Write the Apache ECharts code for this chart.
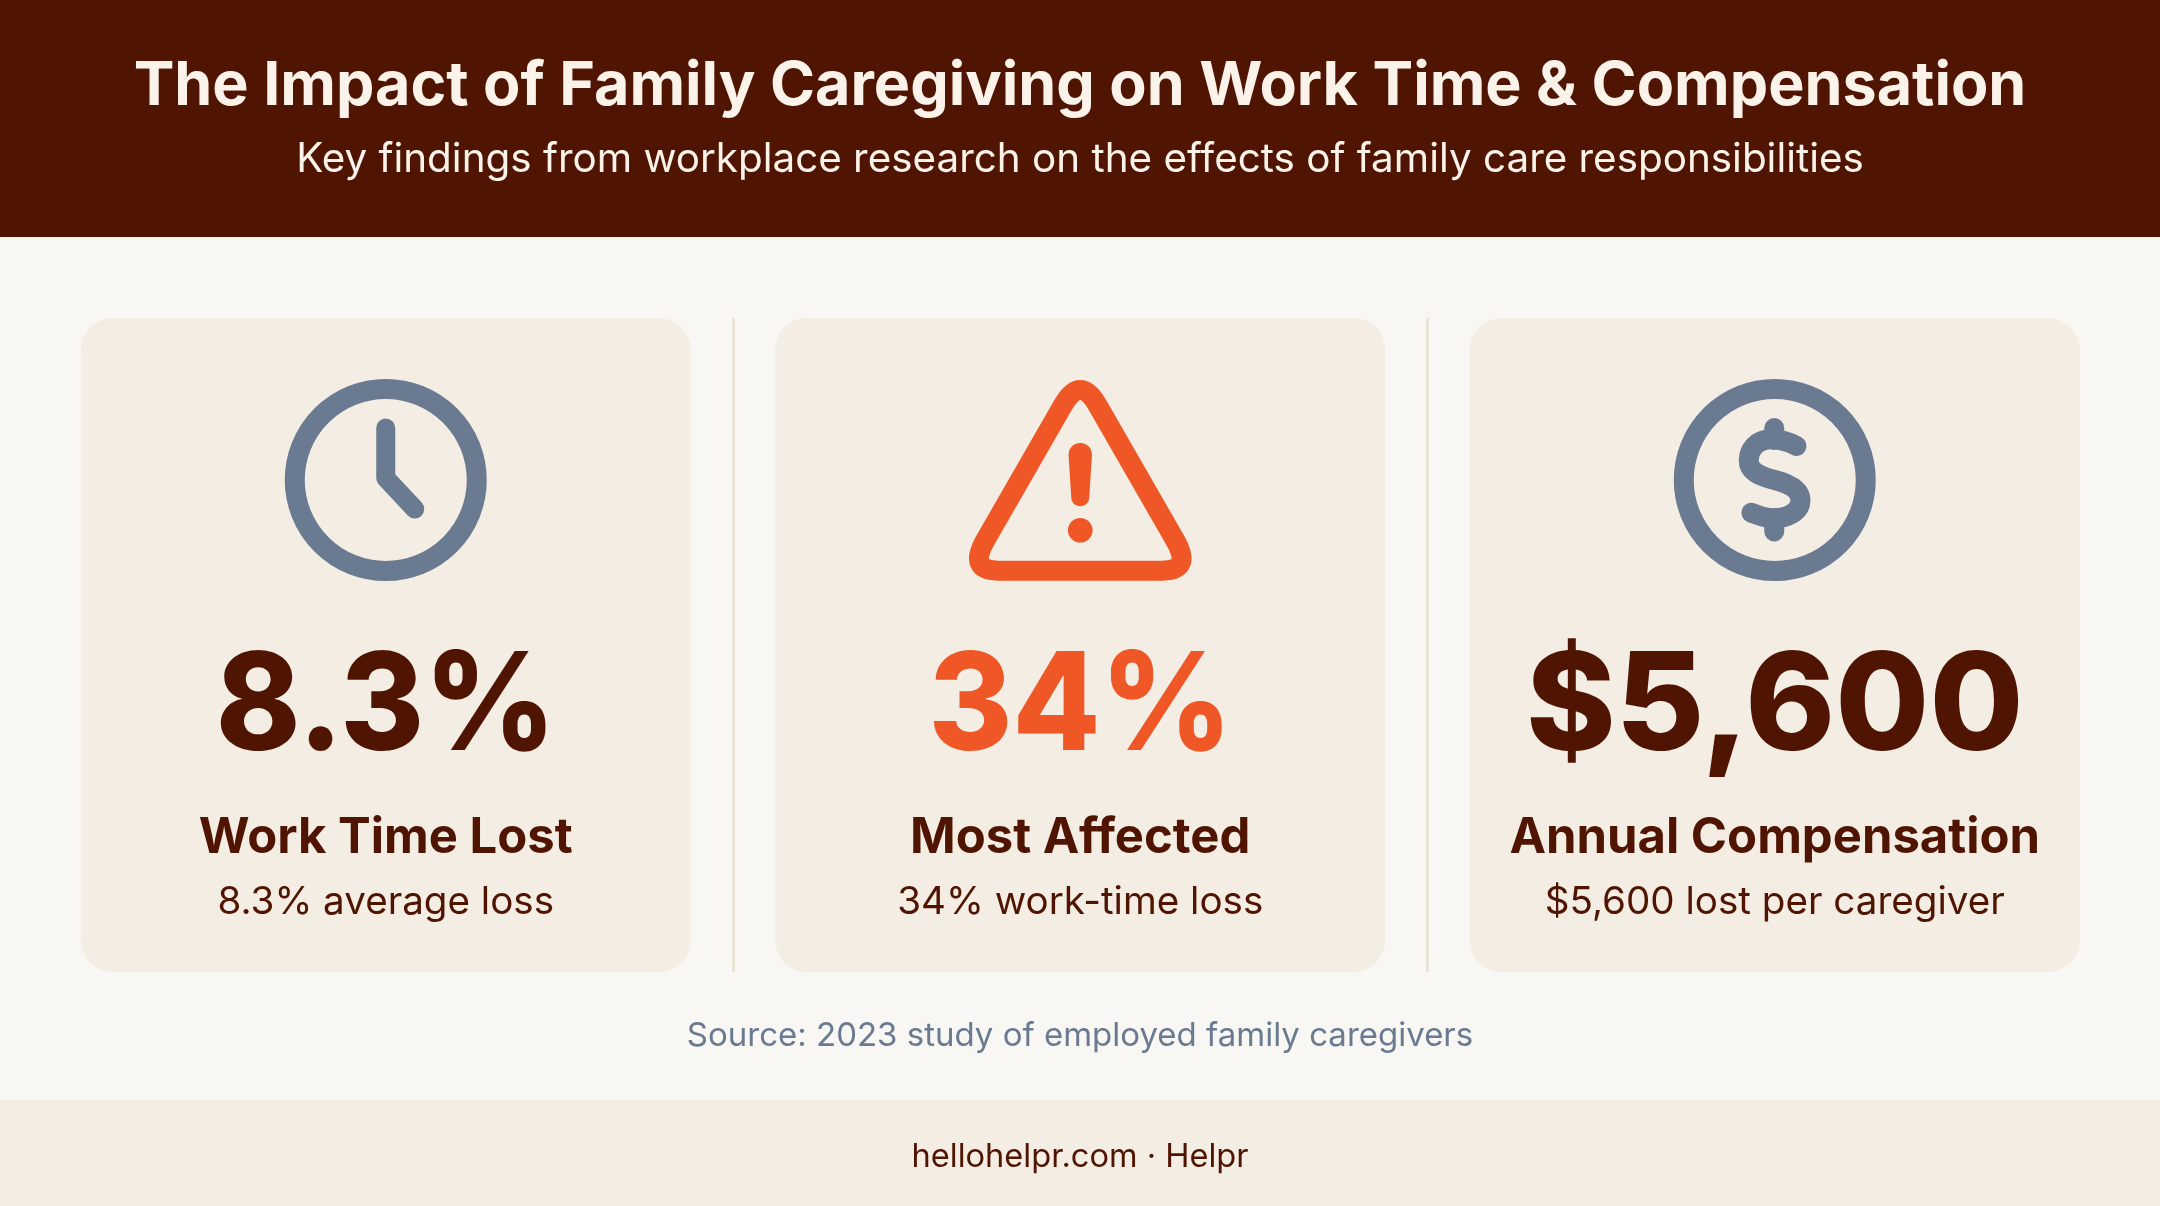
<!DOCTYPE html>
<html>
<head>
<meta charset="utf-8">
<title>Family Caregiving</title>
<script src="https://cdn.jsdelivr.net/npm/echarts@6/dist/echarts.min.js"></script>
<style>
html, body { margin: 0; padding: 0; background: #f8f7f3; }
#chart { width: 2160px; height: 1206px; }
</style>
</head>
<body>
<div id="chart"></div>
<script>
var titleText = 'The Impact of Family Caregiving on Work Time & Compensation';
var subtitleText = 'Key findings from workplace research on the effects of family care responsibilities';
var sourceText = 'Source: 2023 study of employed family caregivers';
var footerText = 'hellohelpr.com · Helpr';

var categories = ['time', 'affected', 'compensation'];
var statLabels = ['8.3%', '34%', '$5,600'];
var statTitles = ['Work Time Lost', 'Most Affected', 'Annual Compensation'];
var statNotes = ['8.3% average loss', '34% work-time loss', '$5,600 lost per caregiver'];

var FONT = 'Inter, "Noto Sans", sans-serif';
var DARK = '#4f1502';
var SLATE = '#6a7a91';
var ORANGE = '#ef5726';
var CARD = '#f3ede3';
var LINE = '#e8dcc4';

// icons drawn around their own centre
var STROKE_ICONS = [
    ['M 0,-52 L 0,-2 L 29,29'],
    ['M -17.2,-75 Q 0,-105 17.2,-75 L 94.8,60 Q 112.5,90.7 82,90.7 L -82,90.7 Q -112.5,90.7 -94.8,60 Z'],
    ['M 21.7,-34 C 11.7,-39.3 1.7,-40.7 -3.3,-40.7 C -18.3,-40.7 -26,-30 -26,-19.3 C -26,-8.3 -15,-4 0,0 C 15,4 25.7,10 25.7,20 C 25.7,31.7 13.3,38.3 -1.7,38.3 C -8.3,38.3 -15,36 -23.3,32.7',
     'M -0.5,-52 L -0.5,-40',
     'M -0.5,38 L -0.5,51.5']
];
var WARN_BANG = 'M -11.7,-25 C -11.7,-41 11.7,-41 11.7,-25 L 9,17.5 C 8.5,29 -8.5,29 -9,17.5 Z';

function iconEls(i, cx, cy) {
    var color = i === 1 ? ORANGE : SLATE;
    var els = [];
    if (i !== 1) {
        els.push({ type: 'circle', shape: { cx: cx, cy: cy, r: 91 }, style: { fill: 'none', stroke: color, lineWidth: 20 } });
    }
    STROKE_ICONS[i].forEach(function (d) {
        els.push({
            type: 'path', x: cx, y: cy, shape: { pathData: d },
            style: { fill: 'none', stroke: color, lineWidth: i === 0 ? 19 : 20, lineCap: 'round', lineJoin: 'round' }
        });
    });
    if (i === 1) {
        els.push({ type: 'path', x: cx, y: cy, shape: { pathData: WARN_BANG }, style: { fill: color } });
        els.push({ type: 'circle', shape: { cx: cx, cy: cy + 50.3, r: 12.3 }, style: { fill: color } });
    }
    return els;
}

function textEl(text, x, y, font, fill, stretch) {
    return {
        type: 'text', x: x, y: y, scaleX: stretch || 1,
        style: { text: text, font: font, fill: fill, textAlign: 'center', textVerticalAlign: 'middle' }
    };
}

function renderCard(params, api) {
    var i = params.dataIndex;
    var cx = api.coord([i, 0])[0];
    var children = [{
        type: 'rect',
        shape: { x: cx - 305, y: 318, width: 610, height: 654, r: 32 },
        style: { fill: CARD }
    }];
    if (i > 0) {
        var prev = api.coord([i - 1, 0])[0];
        var mid = Math.floor((prev + cx) / 2) + 0.5;
        children.push({ type: 'line', shape: { x1: mid, y1: 318, x2: mid, y2: 972 }, style: { stroke: LINE, lineWidth: 2 } });
    }
    children = children.concat(iconEls(i, cx, 480));
    // the percent labels sit tighter than the dollar one in the reference
    children.push(textEl(statLabels[i], cx, 709, '800 136px ' + FONT, i === 1 ? ORANGE : DARK, i === 2 ? 1 : 0.94));
    children.push(textEl(statTitles[i], cx, 838.5, '700 49px ' + FONT, DARK));
    children.push(textEl(statNotes[i], cx, 902, '400 38.6px ' + FONT, DARK));
    return { type: 'group', children: children };
}

var myChart = echarts.init(document.getElementById('chart'));
myChart.setOption({
    animation: false,
    backgroundColor: '#f8f7f3',
    grid: { left: 38.5, width: 2083.5, top: 0, bottom: 0 },
    xAxis: { type: 'category', data: categories, show: false },
    yAxis: { type: 'value', min: 0, max: 1, show: false },
    graphic: [
        { type: 'rect', shape: { x: 0, y: 0, width: 2160, height: 237 }, style: { fill: '#501402' } },
        { type: 'rect', shape: { x: 0, y: 1100, width: 2160, height: 106 }, style: { fill: CARD } },
        { type: 'text', x: 1080, y: 87, style: { text: titleText, font: '700 61px ' + FONT, fill: '#fbf3ea', textAlign: 'center', textVerticalAlign: 'middle' } },
        { type: 'text', x: 1080, y: 160, style: { text: subtitleText, font: '400 40.4px ' + FONT, fill: '#fbf3ea', textAlign: 'center', textVerticalAlign: 'middle' } },
        { type: 'text', x: 1080, y: 1036, style: { text: sourceText, font: '400 33px ' + FONT, fill: SLATE, textAlign: 'center', textVerticalAlign: 'middle' } },
        { type: 'text', x: 1080, y: 1157, style: { text: footerText, font: '400 32.6px ' + FONT, fill: DARK, textAlign: 'center', textVerticalAlign: 'middle' } }
    ],
    series: [{
        type: 'custom',
        silent: true,
        coordinateSystem: 'cartesian2d',
        data: categories.map(function (c, i) { return [i, 0]; }),
        encode: { x: 0, y: 1 },
        renderItem: renderCard
    }]
});
</script>
</body>
</html>
